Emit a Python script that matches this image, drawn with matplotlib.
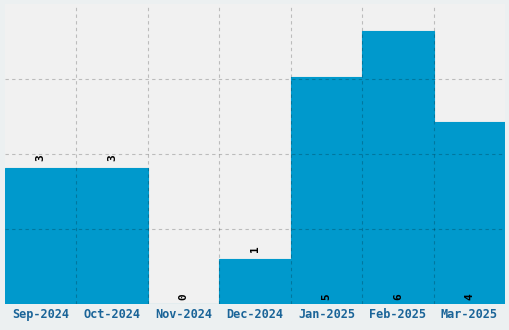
import matplotlib
matplotlib.use('Agg')
import matplotlib.pyplot as plt
import numpy as np

months = ['Sep-2024', 'Oct-2024', 'Nov-2024', 'Dec-2024', 'Jan-2025', 'Feb-2025', 'Mar-2025']
counts = [3, 3, 0, 1, 5, 6, 4]
# where the value label sits: above the bar or at the base
label_top = [True, True, False, True, False, False, False]

fig = plt.figure(figsize=(5.1, 3.3), dpi=100, facecolor='#ecf0f1')
ax = fig.add_axes([5 / 510, 26 / 330, 500 / 510, 300 / 330])
ax.set_facecolor('#f1f1f1')

x = np.arange(len(months))
ax.bar(x, counts, width=1.0, color='#0099cc', edgecolor='#0099cc', linewidth=0.8, zorder=2)
ax.set_xlim(-0.5, len(months) - 0.5)
ax.set_ylim(0, max(counts) * 1.1)

for xi, v, top in zip(x, counts, label_top):
    if top:
        ax.annotate(str(v), (xi, v), xytext=(0, 5), textcoords='offset points',
                    rotation=90, ha='center', va='bottom', fontsize=8,
                    family='DejaVu Sans Mono', fontweight='bold', color='black', zorder=4)
    else:
        ax.annotate(str(v), (xi, 0), xytext=(0, 3), textcoords='offset points',
                    rotation=90, ha='center', va='bottom', fontsize=8,
                    family='DejaVu Sans Mono', fontweight='bold', color='black', zorder=4)

ax.set_xticks(x)
ax.set_xticklabels(months, family='DejaVu Sans Mono', fontweight='bold',
                   fontsize=8.6, color='#1a6498')
ax.set_xticks(x[:-1] + 0.5, minor=True)
ax.set_yticks(np.linspace(0, max(counts) * 1.1, 5)[1:-1])
ax.set_yticklabels([])
ax.tick_params(axis='both', which='both', length=0, pad=3)

ax.grid(True, which='minor', axis='x', color='black', alpha=0.22, linestyle=(0, (3, 3)), linewidth=0.8, zorder=3)
ax.grid(True, which='major', axis='y', color='black', alpha=0.22, linestyle=(0, (3, 3)), linewidth=0.8, zorder=3)
ax.grid(False, which='major', axis='x')
ax.set_axisbelow(False)
for s in ax.spines.values():
    s.set_visible(False)

plt.savefig('out.png', dpi=100, facecolor=fig.get_facecolor())
